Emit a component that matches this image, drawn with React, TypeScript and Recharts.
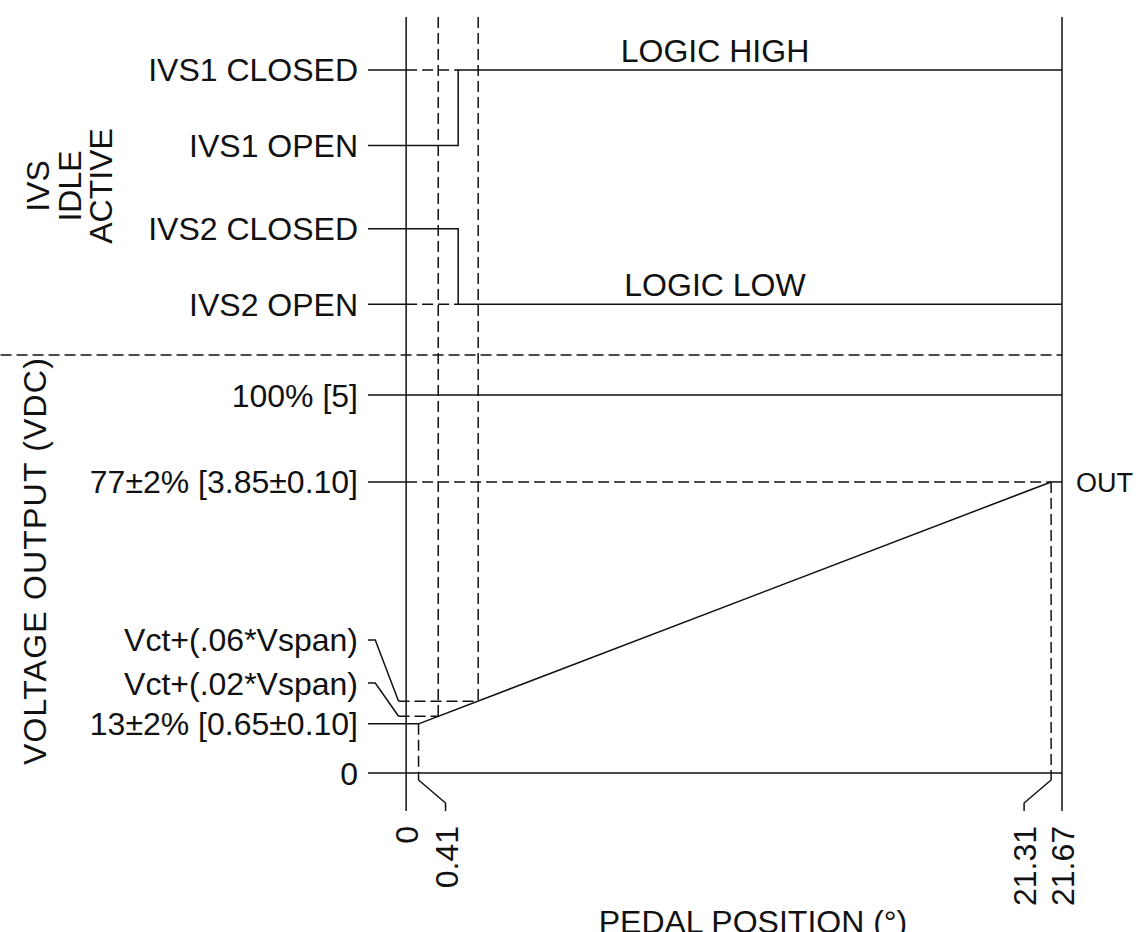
import { ComposedChart, Line, XAxis, YAxis, ReferenceLine } from 'recharts'

// pedal position axis (degrees)
const pedalTicks = [0, 0.41, 21.31, 21.67]
const pedalMin = -1.26 // level lines start a little left of 0
const pedalMax = 21.67
const ivsSwitchPedal = 1.72

// IVS switch states, drawn in the band above the voltage output
const ivsStates = ['IVS1 CLOSED', 'IVS1 OPEN', 'IVS2 CLOSED', 'IVS2 OPEN']
const ivsLevels = [9.3, 8.3, 7.2, 6.2]
const bandSplit = 5.53
const bandTop = 10

// voltage output levels
const voltTicks = [5, 3.85, 0.65, 0]
const voltLabels = ['100% [5]', '77±2% [3.85±0.10]', '13±2% [0.65±0.10]', '0']
const outPedal = [0.41, 21.31]
const outVolt = [0.65, 3.85]

// where the output crosses the IVS switching points
const thresholdLabels = ['Vct+(.02*Vspan)', 'Vct+(.06*Vspan)']
const thresholdLabelAt = [1.19, 1.76]
const thresholdPedal = [1.06, 2.38]
const thresholdVolt = [0.75, 0.95]

// leader geometry (pedal units)
const leaderStub = -1.02
const leaderKnee = -0.25
const splitFrom = -13.4 // dashed split runs to the page edge

const FONT = '"Liberation Sans", Arial, sans-serif'
const INK = '#111'
const DASH = '11 5'
const SW = 1.5

const yTickValues = [...ivsLevels, ...voltTicks, ...thresholdLabelAt]

const yTickText = (v: number) => {
  let i = ivsLevels.indexOf(v)
  if (i >= 0) return ivsStates[i]
  i = voltTicks.indexOf(v)
  if (i >= 0) return voltLabels[i]
  i = thresholdLabelAt.indexOf(v)
  return i >= 0 ? thresholdLabels[i] : ''
}

const ivs1Signal = [
  { x: pedalMin, y: ivsLevels[1] },
  { x: ivsSwitchPedal, y: ivsLevels[1] },
  { x: ivsSwitchPedal, y: ivsLevels[0] },
  { x: pedalMax, y: ivsLevels[0] },
]
const ivs2Signal = [
  { x: pedalMin, y: ivsLevels[2] },
  { x: ivsSwitchPedal, y: ivsLevels[2] },
  { x: ivsSwitchPedal, y: ivsLevels[3] },
  { x: pedalMax, y: ivsLevels[3] },
]
const outLine = outPedal.map((x, i) => ({ x, y: outVolt[i] }))

const leaders = thresholdLabelAt.map((at, i) => [
  { x: pedalMin, y: at },
  { x: leaderStub, y: at },
  { x: leaderKnee, y: thresholdVolt[i] },
])
const leaderDashes = thresholdPedal.map((p, i) => [
  { x: leaderKnee, y: thresholdVolt[i] },
  { x: p, y: thresholdVolt[i] },
])

const YTick = ({ x, y, payload }: any) => (
  <text
    x={x}
    y={y}
    dy="0.36em"
    textAnchor="end"
    fontFamily={FONT}
    fontSize={32}
    fill={INK}
  >
    {yTickText(payload.value)}
  </text>
)

const XTick = ({ x, y, payload }: any) => {
  const v = payload.value
  // inner ticks are pulled outwards so the labels clear each other
  const shift = v === pedalTicks[1] ? 27 : v === pedalTicks[2] ? -27 : 0
  const lx = x + shift
  const d =
    shift === 0
      ? `M${x},${y}V${y + 38}`
      : `M${x},${y}V${y + 7}L${lx},${y + 30}V${y + 38}`
  return (
    <g>
      <path d={d} stroke={INK} strokeWidth={SW} fill="none" />
      <text
        transform={`translate(${lx + 12},${y + 53}) rotate(-90)`}
        textAnchor="end"
        fontFamily={FONT}
        fontSize={32}
        fill={INK}
      >
        {String(v)}
      </text>
    </g>
  )
}

const XTitle = ({ viewBox }: any) => (
  <text
    x={viewBox.x + viewBox.width / 2 + 38}
    y={viewBox.y + viewBox.height + 1}
    textAnchor="middle"
    fontFamily={FONT}
    fontSize={32}
    fill={INK}
  >
    PEDAL POSITION (°)
  </text>
)

const YTitles = ({ viewBox }: any) => {
  const top = viewBox.y
  const ivsLines = ['IVS', 'IDLE', 'ACTIVE']
  const ivsBase = [49, 81, 112]
  return (
    <g fontFamily={FONT} fontSize={32} fill={INK}>
      {ivsLines.map((t, i) => (
        <text
          key={t}
          transform={`translate(${ivsBase[i]},${top + 169}) rotate(-90)`}
          textAnchor="middle"
        >
          {t}
        </text>
      ))}
      <text
        transform={`translate(46,${top + 544}) rotate(-90)`}
        textAnchor="middle"
        letterSpacing={1.2}
      >
        VOLTAGE OUTPUT (VDC)
      </text>
    </g>
  )
}

const labelStyle = { fontFamily: FONT, fontSize: 32, fill: INK }

const seg = (x1: number, y1: number, x2: number, y2: number) => [
  { x: x1, y: y1 },
  { x: x2, y: y2 },
]

export default function App() {
  const lineProps = {
    dataKey: 'y',
    type: 'linear' as const,
    stroke: INK,
    strokeWidth: SW,
    dot: false,
    activeDot: false,
    isAnimationActive: false,
    legendType: 'none' as const,
  }
  const ref = { stroke: INK, strokeWidth: SW, ifOverflow: 'visible' as const }

  return (
    <div style={{ position: 'absolute', left: 0, top: 0, width: 1142, height: 932, background: '#fff' }}>
      <ComposedChart
        width={1142}
        height={932}
        margin={{ top: 17, right: 80, bottom: 0, left: 0 }}
      >
        <XAxis
          dataKey="x"
          type="number"
          domain={[pedalMin, pedalMax]}
          allowDataOverflow
          ticks={pedalTicks}
          interval={0}
          axisLine={false}
          tickLine={false}
          tickSize={0}
          tickMargin={0}
          height={159}
          tick={<XTick />}
          label={<XTitle />}
        />
        <YAxis
          type="number"
          domain={[0, bandTop]}
          allowDataOverflow
          ticks={yTickValues}
          interval={0}
          axisLine={false}
          tickLine={false}
          tickSize={6}
          tickMargin={4}
          width={368}
          tick={<YTick />}
          label={<YTitles />}
        />

        {/* frame verticals */}
        <ReferenceLine x={0} {...ref} />
        <ReferenceLine x={pedalMax} {...ref} />

        {/* split between IVS band and voltage band */}
        <ReferenceLine
          segment={seg(splitFrom, bandSplit, pedalMax, bandSplit)}
          {...ref}
          strokeDasharray={DASH}
        />

        {/* IVS levels */}
        <ReferenceLine
          y={ivsLevels[0]}
          stroke="none"
          ifOverflow="visible"
          label={{ value: 'LOGIC HIGH', position: 'top', offset: 8, ...labelStyle }}
        />
        <ReferenceLine
          y={ivsLevels[3]}
          stroke="none"
          ifOverflow="visible"
          label={{ value: 'LOGIC LOW', position: 'top', offset: 8, ...labelStyle }}
        />
        {[ivsLevels[0], ivsLevels[3]].map((lv) => (
          <ReferenceLine key={`stub-${lv}`} segment={seg(pedalMin, lv, 0, lv)} {...ref} />
        ))}
        {[ivsLevels[0], ivsLevels[3]].map((lv) => (
          <ReferenceLine
            key={`ivsdash-${lv}`}
            segment={seg(0, lv, ivsSwitchPedal, lv)}
            {...ref}
            strokeDasharray={DASH}
          />
        ))}

        {/* IVS switching thresholds */}
        {thresholdPedal.map((p, i) => (
          <ReferenceLine
            key={`thr-${p}`}
            segment={seg(p, bandTop, p, thresholdVolt[i])}
            {...ref}
            strokeDasharray={DASH}
          />
        ))}

        {/* voltage levels */}
        <ReferenceLine y={voltTicks[0]} {...ref} />
        <ReferenceLine y={voltTicks[3]} {...ref} />
        <ReferenceLine segment={seg(pedalMin, outVolt[1], 0, outVolt[1])} {...ref} />
        <ReferenceLine
          segment={seg(0, outVolt[1], outPedal[1], outVolt[1])}
          {...ref}
          strokeDasharray={DASH}
        />
        <ReferenceLine
          segment={seg(outPedal[1], outVolt[1], pedalMax, outVolt[1])}
          {...ref}
          label={{ value: 'OUT', position: 'right', offset: 14, ...labelStyle, fontSize: 27 }}
        />
        <ReferenceLine segment={seg(pedalMin, outVolt[0], outPedal[0], outVolt[0])} {...ref} />
        {outPedal.map((p, i) => (
          <ReferenceLine
            key={`drop-${p}`}
            segment={seg(p, outVolt[i], p, 0)}
            {...ref}
            strokeDasharray={DASH}
          />
        ))}

        <Line data={ivs1Signal} {...lineProps} />
        <Line data={ivs2Signal} {...lineProps} />
        <Line data={outLine} {...lineProps} />
        {leaders.map((d, i) => (
          <Line key={`lead-${i}`} data={d} {...lineProps} />
        ))}
        {leaderDashes.map((d, i) => (
          <Line key={`leaddash-${i}`} data={d} {...lineProps} strokeDasharray={DASH} />
        ))}
      </ComposedChart>
    </div>
  )
}
